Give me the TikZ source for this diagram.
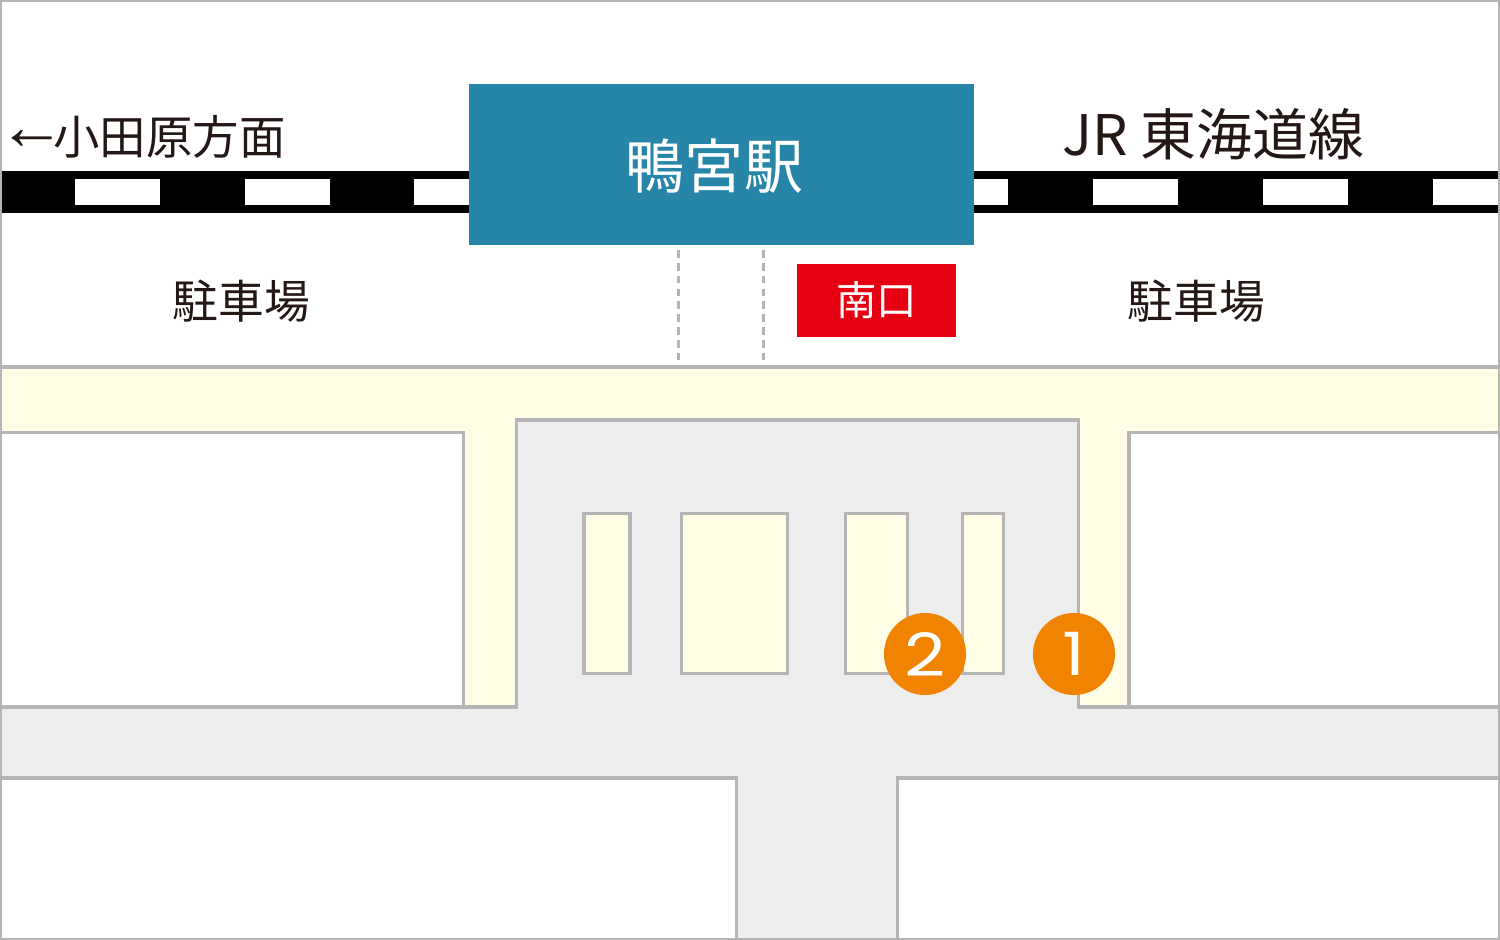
\documentclass[tikz,border=0pt]{standalone}
\usepackage{fontspec}
\setmainfont{Noto Sans CJK JP}
\newfontfamily\digitfont{Poppins}
\newfontfamily\arrowfont{Liberation Sans}
\definecolor{edgegray}{HTML}{B5B5B5}
\definecolor{road}{HTML}{FFFDE6}
\definecolor{plaza}{HTML}{EDEDED}
\definecolor{stationblue}{HTML}{2785A8}
\definecolor{exitred}{HTML}{E60012}
\definecolor{markorange}{HTML}{F08300}
\definecolor{inkdark}{HTML}{231815}
\tikzset{
  x=0.01cm,y=-0.01cm,
  roadline/.style={draw=edgegray,line width=1pt,line join=miter},
  block/.style={fill=road,roadline,inner sep=0pt,minimum height=1.6cm},
  sleeper/.style={fill=white,draw=none},
  circlemark/.style={circle,fill=markorange,minimum size=0.82cm,inner sep=0pt,text=white,font=\digitfont\fontsize{17}{20}\selectfont},
  lbl/.style={inner sep=0pt,text=inkdark},
  walk/.style={draw=edgegray,line width=1.1pt,dash pattern=on 2.2pt off 1.45pt},
}
\begin{document}
\begin{tikzpicture}
\useasboundingbox (0,0) rectangle (1500,940);
\fill[white] (0,0) rectangle (1500,940);
% roads
\fill[road] (0,367) rectangle (1500,432);
\fill[road] (464,420) rectangle (517,707);
\fill[road] (1079,420) rectangle (1130,707);
% plaza and lower roads
\fill[plaza] (517,420) rectangle (1079,707);
\fill[plaza] (0,707) rectangle (1500,778);
\fill[plaza] (737,778) rectangle (897,940);
% outlines
\draw[roadline] (0,367) -- (1500,367);
\draw[roadline] (0,432.5) -- (463.5,432.5) -- (463.5,707) -- (516.5,707) -- (516.5,420) -- (1078.5,420) -- (1078.5,707) -- (1500,707);
\draw[roadline] (1129,707) -- (1129,432.5) -- (1500,432.5);
\draw[roadline] (0,707) -- (464,707);
\draw[roadline] (0,778) -- (736.5,778) -- (736.5,940);
\draw[roadline] (897.5,940) -- (897.5,778) -- (1500,778);
% kiosks
\node[block,minimum width=0.46cm] (k1) at (607,593.5) {};
\node[block,minimum width=1.06cm] (k2) at (734.5,593.5) {};
\node[block,minimum width=0.62cm] (k3) at (876.5,593.5) {};
\node[block,minimum width=0.41cm] (k4) at (983,593.5) {};
% railway
\fill[black] (2,171) rectangle (1498,213);
\foreach \a/\b in {75/160,245/330,414/469,974/1008,1093/1178,1263/1348,1433/1498}
  \fill[sleeper] (\a,179) rectangle (\b,205);
% station
\node[fill=stationblue,minimum width=5.05cm,minimum height=1.61cm,inner sep=0pt] (station) at (721.5,164.5) {};
\node[text=white,inner sep=0pt,font=\fontsize{16.8}{18}\selectfont] (stname) at (714.5,166) {鴨宮駅};
% south exit
\node[fill=exitred,minimum width=1.59cm,minimum height=0.73cm,inner sep=0pt,text=white,font=\fontsize{11.5}{12}\selectfont] (exit) at (876.5,300.5) {南口};
% walkway
\coordinate (wa) at (678.5,250); \coordinate (wb) at (678.5,362);
\coordinate (wc) at (763.5,250); \coordinate (wd) at (763.5,362);
\draw[walk] (wa) -- (wb);
\draw[walk] (wc) -- (wd);
% labels
\node[lbl,anchor=west,font=\fontsize{13.2}{15}\selectfont] (dir) at (-2,137) {\makebox[15.6pt][l]{\raisebox{1.4pt}{\scalebox{1.45}{\arrowfont ←}}}小田原方面};
\node[lbl,anchor=west,font=\fontsize{15.9}{17}\selectfont] (line) at (1062,134) {JR 東海道線};
\node[lbl,font=\fontsize{13}{15}\selectfont] (p1) at (241.5,301) {駐車場};
\node[lbl,font=\fontsize{13}{15}\selectfont] (p2) at (1196.5,301) {駐車場};
% markers
\node[circlemark] (m2) at (925,654) {\scalebox{1.2}[1]{2}};
\node[circlemark] (m1) at (1074,654) {\scalebox{1.2}[1]{1}};
% frame
\draw[edgegray,line width=0.8pt] (1,1) rectangle (1499,939);
\end{tikzpicture}
\end{document}
